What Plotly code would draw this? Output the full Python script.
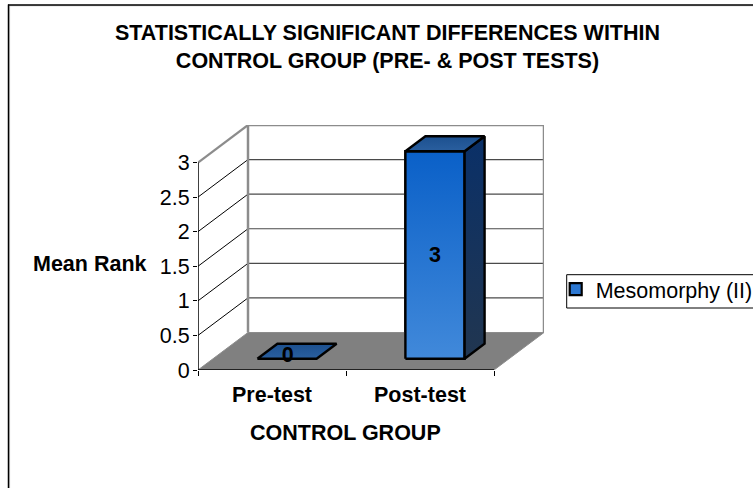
import plotly.graph_objects as go

categories = ["Pre-test", "Post-test"]
values = [0, 3]
series_name = "Mesomorphy (II)"
y_ticks = [0, 0.5, 1, 1.5, 2, 2.5, 3]
y_tick_labels = ["0", "0.5", "1", "1.5", "2", "2.5", "3"]

W, H = 753, 488
FONT = "Liberation Sans, Arial, sans-serif"
FS = 21.5
X0, X1 = 198.0, 494.0      # front plane, px
Y0, Y3 = 370.0, 162.5
DX_PX, DY_PX = 50.0, 37.5  # depth vector, px
PX_PER_CAT = (X1 - X0) / len(categories)
PX_PER_VAL = (Y0 - Y3) / max(y_ticks)
KX = DX_PX / PX_PER_CAT
KY = DY_PX / PX_PER_VAL
BAR_W = 0.4
XMIN, XMAX = -0.5, len(categories) - 0.5
YMAX = max(y_ticks)


def proj(x, y, z):
    """oblique projection: category x, value y, depth z in 0..1"""
    return x + KX * z, y + KY * z


def poly(points, **kw):
    pts = [proj(*p) for p in points] + [proj(*points[0])]
    return go.Scatter(x=[p[0] for p in pts], y=[p[1] for p in pts], mode="lines",
                      fill="toself", showlegend=False, hoverinfo="skip",
                      cliponaxis=False, **kw)


def seg(a, b, color, width):
    pa, pb = proj(*a), proj(*b)
    return go.Scatter(x=[pa[0], pb[0]], y=[pa[1], pb[1]], mode="lines",
                      line=dict(color=color, width=width), showlegend=False,
                      hoverinfo="skip", cliponaxis=False)


def grad(top, bottom):
    return dict(type="vertical", colorscale=[[0, bottom], [1, top]])


fig = go.Figure()

# flat bar trace: carries the series and its legend key
z_front, z_back = 0.3, 0.7
fx, fy = KX * z_front, KY * z_front
fig.add_trace(go.Bar(x=[i + fx for i in range(len(categories))], y=values,
                     base=[fy] * len(values), width=BAR_W, name=series_name,
                     marker=dict(color="#2d78d2", line=dict(color="black", width=2.2)),
                     hoverinfo="skip", cliponaxis=False))

# walls and floor
GREY = "#8c8c8c"
fig.add_trace(poly([(XMIN, 0, 0), (XMAX, 0, 0), (XMAX, 0, 1), (XMIN, 0, 1)],
                   fillcolor="#808080", line=dict(color="#8c8c8c", width=1)))
for t in y_ticks[1:-1]:
    fig.add_trace(seg((XMIN, t, 1), (XMAX, t, 1), "#4a4a4a", 1.2))
for t in y_ticks[1:]:
    c, w = ("#000000", 1) if t != YMAX else (GREY, 2.2)
    fig.add_trace(seg((XMIN, t, 0), (XMIN, t, 1), c, w))
fig.add_trace(seg((XMIN, YMAX, 1), (XMAX, YMAX, 1), GREY, 2.5))
fig.add_trace(seg((XMIN, 0, 1), (XMIN, YMAX, 1), GREY, 2.5))
fig.add_trace(seg((XMAX, 0, 1), (XMAX, YMAX, 1), GREY, 2.5))
fig.add_trace(seg((XMIN, 0, 0), (XMAX, 0, 0), "#000000", 1.5))
fig.add_trace(seg((XMIN, 0, 0), (XMIN, YMAX, 0), "#000000", 1.5))

# 3-D bar faces
EDGE = dict(color="black", width=2.4)
for i, v in enumerate(values):
    l, r = i - BAR_W / 2, i + BAR_W / 2
    if v > 0:
        fig.add_trace(poly([(l, 0, z_front), (r, 0, z_front), (r, v, z_front), (l, v, z_front)],
                           fillgradient=grad("#0a60c8", "#4189da"), line=EDGE))
        fig.add_trace(poly([(r, 0, z_front), (r, 0, z_back), (r, v, z_back), (r, v, z_front)],
                           fillgradient=grad("#0a3068", "#213650"), line=EDGE))
    fig.add_trace(poly([(l, v, z_front), (r, v, z_front), (r, v, z_back), (l, v, z_back)],
                       fillgradient=grad("#1c508f", "#2a5f9f"), line=EDGE))

# data labels
lx, ly = [], []
for i, v in enumerate(values):
    p = proj(i, v / 2, z_front)
    lx.append(p[0] + (0.005 if v == 0 else 0)); ly.append(p[1] + (0.035 if v == 0 else -0.025))
fig.add_trace(go.Scatter(x=lx, y=ly, mode="text", text=[f"<b>{v}</b>" for v in values],
                         textfont=dict(family=FONT, size=FS, color="black"),
                         textposition="middle center", showlegend=False,
                         hoverinfo="skip", cliponaxis=False))

fig.update_layout(
    width=W, height=H, autosize=False,
    margin=dict(l=0, r=0, t=0, b=0, autoexpand=False),
    paper_bgcolor="white", plot_bgcolor="rgba(0,0,0,0)",
    font=dict(family=FONT, color="black"),
    barmode="overlay",
    title=dict(text="<b>STATISTICALLY SIGNIFICANT DIFFERENCES WITHIN<br>CONTROL GROUP (PRE- &amp; POST TESTS)</b>",
               x=387.5 / W, xanchor="center", y=1 - 40 / H, yanchor="middle",
               font=dict(family=FONT, size=FS, color="black")),
    xaxis=dict(domain=[X0 / W, (X1 + DX_PX) / W], range=[XMIN, XMAX + KX], tickmode="array",
               tickvals=list(range(len(categories))),
               ticktext=[f"<b>{c}</b>" for c in categories],
               ticks="outside", ticklen=5, tickcolor="rgba(0,0,0,0)",
               showgrid=False, zeroline=False, showline=False,
               tickfont=dict(family=FONT, size=FS, color="black"),
               minor=dict(tickmode="array", tickvals=[XMIN + k for k in range(len(categories) + 1)],
                          ticks="outside", ticklen=5, tickwidth=1, tickcolor="black", showgrid=False)),
    yaxis=dict(domain=[1 - Y0 / H, 1 - (Y3 - DY_PX) / H], range=[0, YMAX + KY], tickmode="array",
               tickvals=y_ticks, ticktext=y_tick_labels, ticks="outside", ticklen=4,
               ticklabelstandoff=-1,
               tickwidth=1, tickcolor="black", showgrid=False, zeroline=False, showline=False,
               tickfont=dict(family=FONT, size=FS, color="black")),
    legend=dict(x=566.7 / W, xanchor="left", y=1 - 268.7 / H, yanchor="top",
                borderwidth=0, bgcolor="rgba(0,0,0,0)",
                font=dict(family=FONT, size=FS, color="black"),
                entrywidth=180, entrywidthmode="pixels", indentation=-11),
    showlegend=True,
    annotations=[dict(text="<b>Mean Rank</b>", xref="paper", yref="paper",
                      x=89.5 / W, y=1 - 264 / H, showarrow=False, xanchor="center", yanchor="middle",
                      font=dict(family=FONT, size=FS, color="black")),
                 dict(text="<b>CONTROL GROUP</b>", xref="paper", yref="paper",
                      x=345 / W, y=1 - 433 / H, showarrow=False, xanchor="center", yanchor="middle",
                      font=dict(family=FONT, size=FS, color="black"))],
    shapes=[dict(type="line", xref="paper", yref="paper", x0=9.6 / W, x1=9.6 / W, y0=0, y1=1 - 5.5 / H,
                 line=dict(color="#cccccc", width=1)),
            dict(type="line", xref="paper", yref="paper", x0=9.5 / W, x1=1, y0=1 - 5.8 / H, y1=1 - 5.8 / H,
                 line=dict(color="#cccccc", width=1)),
            dict(type="line", xref="paper", yref="paper", x0=8.5 / W, x1=8.5 / W, y0=0, y1=1 - 4.5 / H,
                 line=dict(color="black", width=1.5)),
            dict(type="line", xref="paper", yref="paper", x0=8 / W, x1=1, y0=1 - 5 / H, y1=1 - 5 / H,
                 line=dict(color="black", width=1.5)),
            dict(type="rect", xref="paper", yref="paper", x0=566.7 / W, x1=1.01, y0=1 - 308 / H,
                 y1=1 - 274.7 / H, line=dict(color="black", width=1), fillcolor="white", layer="below")],
)
fig.write_html("out.html", config=dict(displayModeBar=False),
               post_script="document.body.style.margin='0';document.body.style.overflow='hidden';")
